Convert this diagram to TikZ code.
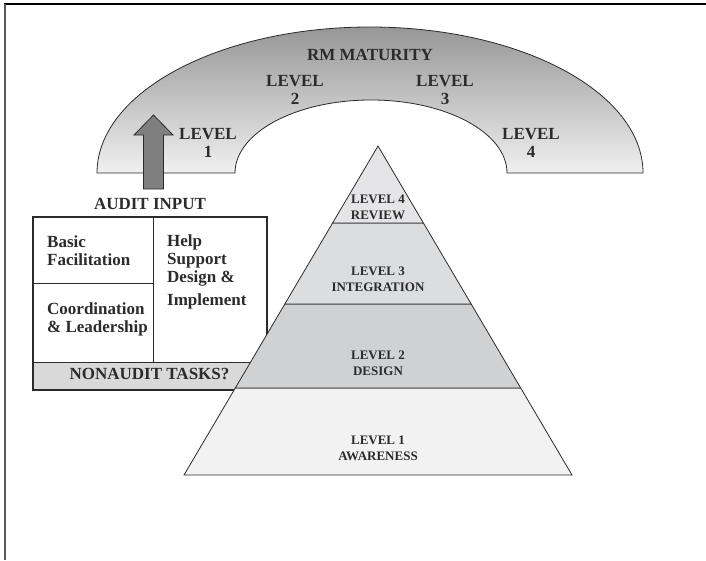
\documentclass[tikz,border=0pt]{standalone}
\usepackage{fontspec}
\setmainfont{Liberation Serif}
\usetikzlibrary{calc}
\definecolor{ink}{HTML}{2B2B2B}
\definecolor{archtop}{HTML}{979797}
\definecolor{archbot}{HTML}{F0F0F0}
\definecolor{arrowgray}{HTML}{7F7F7F}
\definecolor{bandgray}{HTML}{D9D9D9}
\definecolor{pyrA}{HTML}{F2F2F2}
\definecolor{pyrB}{HTML}{D0D1D3}
\definecolor{pyrC}{HTML}{DCDDDF}
\definecolor{pyrD}{HTML}{E5E5E7}
\begin{document}
\begin{tikzpicture}[x=1pt,y=-1pt,
  lbl/.style={font=\bfseries\fontsize{17}{17.5}\selectfont, text=ink, inner sep=0pt, align=center},
  boxlbl/.style={font=\bfseries\fontsize{17}{18}\selectfont, text=ink, inner sep=0pt, align=left, anchor=west},
  plbl/.style={font=\bfseries\fontsize{13}{16}\selectfont, text=ink, inner sep=0pt, align=center},
  outl/.style={draw=ink, line width=0.8pt},
]
\useasboundingbox (0,0) rectangle (706,560);
% frame
\draw[line width=1.6pt, black] (4.2,4) -- (706,4);
\draw[line width=1.6pt, black!65] (5,4) -- (5,560);

% maturity arch
\path[outl, top color=archtop, bottom color=archbot]
  (97,173) arc[start angle=180, end angle=0, x radius=273pt, y radius=146pt]
  -- (507,173) arc[start angle=0, end angle=180, x radius=136pt, y radius=73pt] -- cycle;
\node[lbl] (rm) at (370,54.5) {RM MATURITY};
\node[lbl] (a1) at (208,143) {LEVEL\\1};
\node[lbl] (a2) at (295,90) {LEVEL\\2};
\node[lbl] (a3) at (445,90) {LEVEL\\3};
\node[lbl] (a4) at (531,143) {LEVEL\\4};

% audit input arrow
\path[outl, fill=arrowgray] (143.5,189) -- (143.5,135) -- (134,135) -- (153.5,115)
  -- (173,135) -- (163.5,135) -- (163.5,189) -- cycle;
\node[lbl] (audit) at (150,203.5) {AUDIT INPUT};

% task box
\node[fill=bandgray, inner sep=0pt, minimum width=234pt, minimum height=28pt] (band) at (150,376) {};
\draw[ink, line width=0.8pt] (33,362) -- (267,362);
\draw[ink, line width=0.8pt] (153,217) -- (153,362);
\draw[ink, line width=0.8pt] (33,283) -- (153,283);
\node[draw=ink, line width=1.8pt, inner sep=0pt, minimum width=234pt, minimum height=173pt] (box) at (150,303.5) {};
\node[boxlbl] (basic) at (47,250.5) {Basic\\Facilitation};
\node[boxlbl] (coord) at (47,319.5) {Coordination\\\& Leadership};
\node[boxlbl] (help) at (167,272) {Help\\Support\\Design \&\\[5pt]Implement};
\node[lbl] (nonaudit) at (149.5,373.5) {NONAUDIT TASKS?};

% pyramid
\coordinate (apex) at (378,146);
\coordinate (bl) at (184,475);
\coordinate (br) at (572,475);
\coordinate (l1l) at ($(apex)!0.7356!(bl)$);
\coordinate (l1r) at ($(apex)!0.7356!(br)$);
\coordinate (l2l) at ($(apex)!0.480!(bl)$);
\coordinate (l2r) at ($(apex)!0.480!(br)$);
\coordinate (l3l) at ($(apex)!0.234!(bl)$);
\coordinate (l3r) at ($(apex)!0.234!(br)$);
\path[outl, fill=pyrA] (l1l) -- (l1r) -- (br) -- (bl) -- cycle;
\path[outl, fill=pyrB] (l2l) -- (l2r) -- (l1r) -- (l1l) -- cycle;
\path[outl, fill=pyrC] (l3l) -- (l3r) -- (l2r) -- (l2l) -- cycle;
\path[outl, fill=pyrD] (apex) -- (l3r) -- (l3l) -- cycle;
\node[plbl] (p4) at (378,207) {LEVEL 4\\REVIEW};
\node[plbl] (p3) at (378,279) {LEVEL 3\\INTEGRATION};
\node[plbl] (p2) at (378,363.5) {LEVEL 2\\DESIGN};
\node[plbl] (p1) at (378,448.5) {LEVEL 1\\AWARENESS};
\end{tikzpicture}
\end{document}
